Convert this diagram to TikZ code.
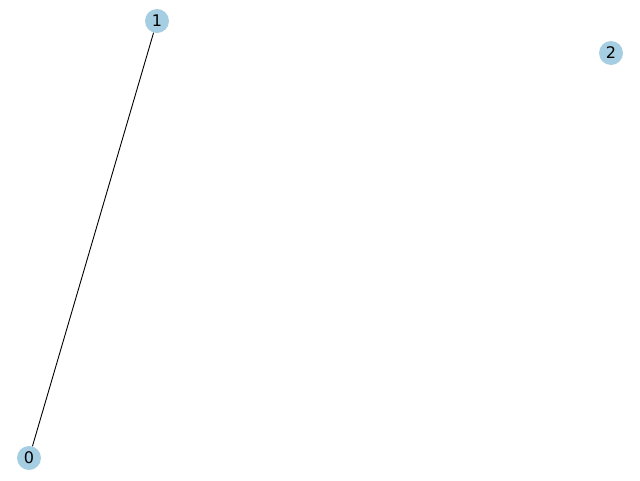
\documentclass[tikz,border=0pt]{standalone}
\usepackage{fontspec}
\setmainfont{DejaVu Sans}
\definecolor{nodeblue}{HTML}{A6CEE3}
\begin{document}
\begin{tikzpicture}[x=1pt,y=-1pt,
  gnode/.style={circle,fill=nodeblue,draw=none,minimum size=24pt,inner sep=0pt,font=\fontsize{16}{16}\selectfont},
  gedge/.style={draw=black,line width=0.9pt}]
\useasboundingbox (0,0) rectangle (640,480);
\node[gnode] (n0) at (29,458) {0};
\node[gnode] (n1) at (157,21) {1};
\node[gnode] (n2) at (611,53) {2};
\draw[gedge] (n0) -- (n1);
\end{tikzpicture}
\end{document}
